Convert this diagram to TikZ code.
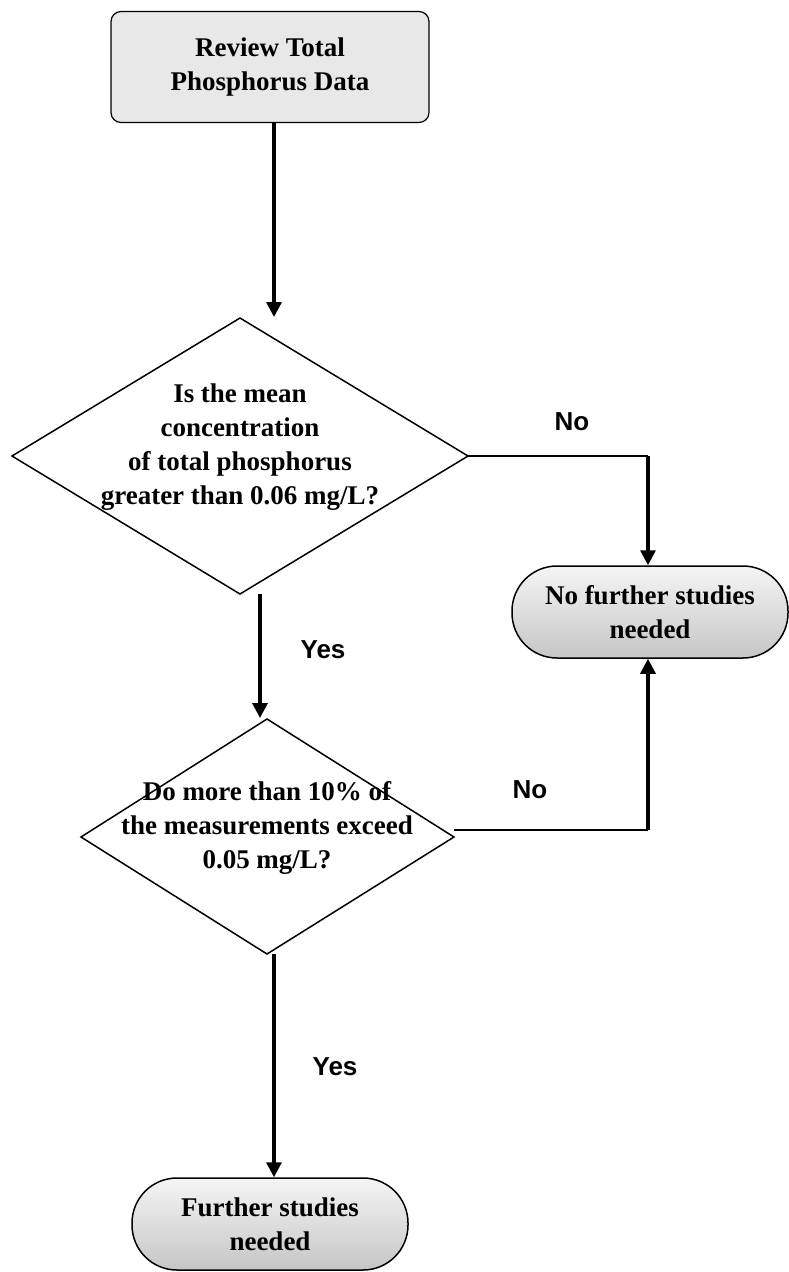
\documentclass[tikz,border=0pt]{standalone}
\usepackage{fontspec}
\setmainfont{Liberation Serif}
\newfontfamily\labelfont{Liberation Sans}
\usetikzlibrary{arrows.meta}
\begin{document}
\begin{tikzpicture}[x=1pt,y=-1pt,
 txt/.style={font=\fontsize{27}{34}\selectfont\bfseries, align=center},
 lbl/.style={font=\labelfont\fontsize{26}{30}\selectfont\bfseries},
 arr/.style={line width=3.2pt, -{Triangle[length=15pt,width=15pt]}},
 thinline/.style={line width=1.5pt},
 term/.style={draw, line width=1.5pt, rounded corners=45pt, top color=gray!8, bottom color=gray!45, minimum width=276pt, minimum height=92pt, txt, inner sep=0pt}
]
\useasboundingbox (0,0) rectangle (789,1272);
% start box
\node[draw, fill=gray!18, rounded corners=10pt, line width=1.2pt, minimum width=318pt, minimum height=111pt, txt] (start) at (270,67) {Review Total\\Phosphorus Data};
\coordinate (a1) at (274,317);
\draw[arr] (start.south -| a1) -- (a1);
% decision 1
\coordinate (d1t) at (240,318);
\coordinate (d1r) at (468,456);
\coordinate (d1b) at (240,594);
\coordinate (d1l) at (12,456);
\draw[thinline] (d1t) -- (d1r) -- (d1b) -- (d1l) -- cycle;
\node[txt] (q1) at (240,447) {Is the mean\\concentration\\of total phosphorus\\greater than 0.06 mg/L?};
% terminator 1
\node[term] (t1) at (650,612) {No further studies\\needed};
\coordinate (n1c) at (648,456);
\draw[thinline] (d1r) -- (n1c);
\draw[arr] (n1c) -- (t1.north -| n1c);
\node[lbl] (no1) at (572,422) {No};
% yes 1
\coordinate (y1s) at (260,594);
\coordinate (d2t) at (267,719);
\coordinate (y1e) at (260,718);
\draw[arr] (y1s) -- (y1e);
\node[lbl] (yes1) at (323,650) {Yes};
% decision 2
\coordinate (d2r) at (454,837);
\coordinate (d2b) at (267,954);
\coordinate (d2l) at (81,837);
\draw[thinline] (d2t) -- (d2r) -- (d2b) -- (d2l) -- cycle;
\node[txt] (q2) at (267,828) {Do more than 10\% of\\the measurements exceed\\0.05 mg/L?};
% no 2
\coordinate (n2s) at (454,830);
\coordinate (n2c) at (648,830);
\draw[thinline] (n2s) -- (n2c);
\draw[arr] (n2c) -- (t1.south -| n2c);
\node[lbl] (no2) at (530,790) {No};
% yes 2
\node[term] (t2) at (270,1224) {Further studies\\needed};
\coordinate (y2s) at (274,954);
\draw[arr] (y2s) -- (t2.north -| y2s);
\node[lbl] (yes2) at (335,1067) {Yes};
\end{tikzpicture}
\end{document}
